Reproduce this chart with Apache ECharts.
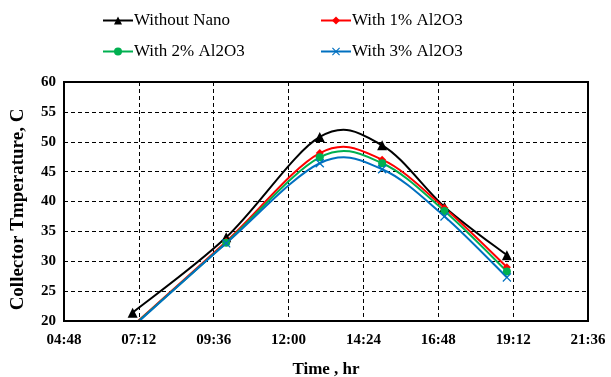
<!DOCTYPE html>
<html>
<head>
<meta charset="utf-8">
<script src="https://cdn.jsdelivr.net/npm/echarts@6/dist/echarts.min.js"></script>
<style>
  html, body { margin: 0; padding: 0; background: #fff; }
  #chart { width: 611px; height: 377px; }
</style>
</head>
<body>
<div id="chart"></div>
<script>
// times in minutes after midnight
const times = [420, 600, 780, 900, 1020, 1140];
const withoutNano = [21.4, 34.0, 50.8, 49.4, 39.1, 31.0];
const with1 = [19.2, 33.3, 48.1, 47.0, 38.9, 29.0];
const with2 = [19.1, 33.1, 47.4, 46.4, 38.4, 28.3];
const with3 = [19.0, 33.0, 46.4, 45.4, 37.5, 27.3];

const seriesNames = ['Without Nano', 'With 1% Al2O3', 'With 2% Al2O3', 'With 3% Al2O3'];
const seriesColors = ['#000000', '#ff0000', '#00b050', '#0070c0'];

const font = '"Liberation Serif", "Times New Roman", serif';
const crossPath = 'path://M0,1 L1,0 L5,4 L9,0 L10,1 L6,5 L10,9 L9,10 L5,6 L1,10 L0,9 L4,5 Z';

const chart = echarts.init(document.getElementById('chart'));

function pad(n) { return (n < 10 ? '0' : '') + n; }
function fmtTime(v) { return pad(Math.floor(v / 60)) + ':' + pad(v % 60); }

// spreadsheet-style smoothed line (catmull-rom through the points, in pixel space)
function curveSeries(values, color) {
  return {
    type: 'custom',
    name: '_curve',
    data: times.map((t, i) => [t, values[i]]),
    z: 2,
    renderItem: (params, api) => {
      if (params.dataIndex !== 0) return null;
      const p = times.map((t, i) => api.coord([t, values[i]]));
      let d = 'M' + p[0][0] + ' ' + p[0][1];
      for (let i = 0; i < p.length - 1; i++) {
        const a = p[i - 1] || p[i];
        const b = p[i];
        const c = p[i + 1];
        const e = p[i + 2] || c;
        const c1 = [b[0] + (c[0] - a[0]) / 6, b[1] + (c[1] - a[1]) / 6];
        const c2 = [c[0] - (e[0] - b[0]) / 6, c[1] - (e[1] - b[1]) / 6];
        d += ' C' + c1[0] + ' ' + c1[1] + ' ' + c2[0] + ' ' + c2[1] + ' ' + c[0] + ' ' + c[1];
      }
      const cs = params.coordSys;
      return {
        type: 'path',
        shape: { pathData: d },
        style: { fill: null, stroke: color, lineWidth: 2 },
        clipPath: { type: 'rect', shape: { x: cs.x, y: cs.y, width: cs.width, height: cs.height } },
      };
    },
  };
}

function markerSeries(name, values, color, symbol, size) {
  return {
    name,
    type: 'line',
    data: times.map((t, i) => [t, values[i]]),
    symbol,
    symbolSize: size,
    showAllSymbol: true,
    lineStyle: { color, width: 2, opacity: 0 },
    itemStyle: { color },
    clip: true,
    z: 3,
  };
}

function legendAt(i, left, top) {
  return {
    data: [{ name: seriesNames[i], lineStyle: { color: seriesColors[i], width: 2, opacity: 1 } }],
    left, top,
    itemWidth: 30,
    itemHeight: 10,
    itemGap: 0,
    textStyle: { fontFamily: font, fontSize: 17, color: '#000', padding: [0, 0, 0, -4] },
  };
}

const option = {
  animation: false,
  color: seriesColors,
  legend: [
    legendAt(0, 97, 7),
    legendAt(1, 315, 7),
    legendAt(2, 97, 38),
    legendAt(3, 315, 38),
  ],
  grid: { left: 64, right: 23, top: 82, bottom: 56, outerBoundsMode: 'none' },
  xAxis: {
    type: 'value',
    min: 288,
    max: 1296,
    interval: 144,
    name: 'Time , hr',
    nameLocation: 'middle',
    nameGap: 40,
    nameTextStyle: { fontFamily: font, fontSize: 17, fontWeight: 'bold', color: '#000' },
    axisLine: { show: true, lineStyle: { color: '#000', width: 2 } },
    axisTick: { show: false },
    axisLabel: { formatter: fmtTime, fontFamily: font, fontSize: 15, fontWeight: 'bold', color: '#000', margin: 12 },
    splitLine: { show: true, lineStyle: { color: '#000', type: [4, 3], width: 1 } },
  },
  yAxis: {
    type: 'value',
    min: 20,
    max: 60,
    interval: 5,
    name: 'Collector Tmperature, C',
    nameLocation: 'middle',
    nameGap: 36,
    nameTextStyle: { fontFamily: font, fontSize: 19, fontWeight: 'bold', color: '#000', padding: [0, 16, 0, 0] },
    axisLine: { show: true, lineStyle: { color: '#000', width: 2 } },
    axisTick: { show: false },
    axisLabel: { fontFamily: font, fontSize: 15, fontWeight: 'bold', color: '#000', margin: 8 },
    splitLine: { show: true, lineStyle: { color: '#000', type: [4, 3], width: 1 } },
  },
  series: [
    curveSeries(withoutNano, seriesColors[0]),
    curveSeries(with1, seriesColors[1]),
    curveSeries(with2, seriesColors[2]),
    curveSeries(with3, seriesColors[3]),
    markerSeries(seriesNames[0], withoutNano, seriesColors[0], 'triangle', 10),
    markerSeries(seriesNames[1], with1, seriesColors[1], 'diamond', 8),
    markerSeries(seriesNames[2], with2, seriesColors[2], 'circle', 8),
    markerSeries(seriesNames[3], with3, seriesColors[3], crossPath, 9),
  ],
  graphic: [
    {
      type: 'rect',
      shape: { x: 64, y: 82, width: 524, height: 239 },
      style: { fill: 'none', stroke: '#000', lineWidth: 2 },
      silent: true,
      z: 10,
    },
  ],
};

chart.setOption(option);
</script>
</body>
</html>
